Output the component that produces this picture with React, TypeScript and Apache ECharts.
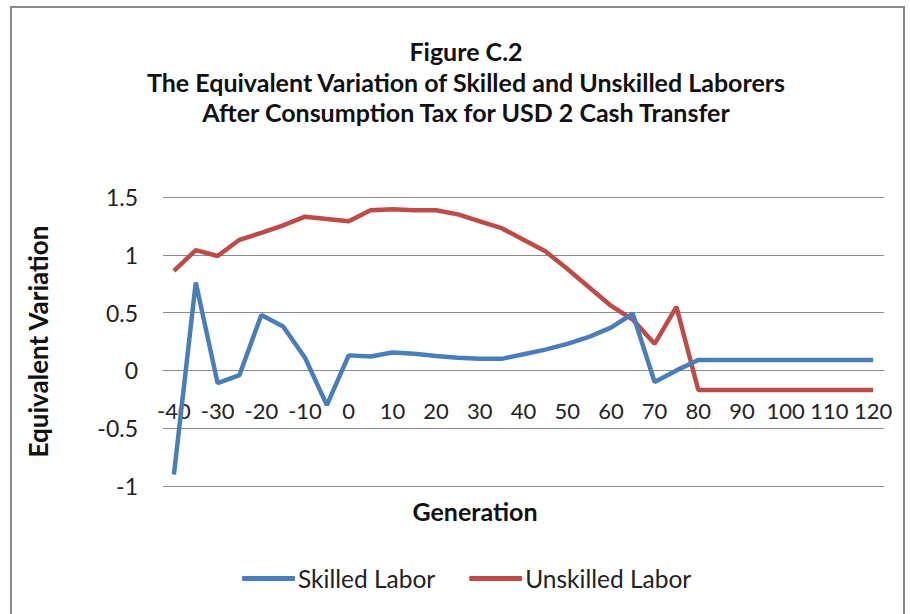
import React, { useEffect, useRef } from "react";
import * as echarts from "echarts";

const generations = [
  "-40", "-35", "-30", "-25", "-20", "-15", "-10", "-5", "0", "5", "10", "15", "20", "25", "30", "35",
  "40", "45", "50", "55", "60", "65", "70", "75", "80", "85", "90", "95", "100", "105", "110", "115", "120",
];

const skilledLabor = [
  -0.9, 0.76, -0.11, -0.04, 0.48, 0.38, 0.11, -0.3, 0.13, 0.12, 0.155, 0.145, 0.125, 0.11, 0.1, 0.1,
  0.14, 0.18, 0.23, 0.29, 0.37, 0.49, -0.1, 0.0, 0.09, 0.09, 0.09, 0.09, 0.09, 0.09, 0.09, 0.09, 0.09,
];

const unskilledLabor = [
  0.86, 1.04, 0.99, 1.13, 1.19, 1.255, 1.33, 1.31, 1.29, 1.385, 1.395, 1.385, 1.385, 1.35, 1.29, 1.23,
  1.13, 1.03, 0.88, 0.72, 0.56, 0.44, 0.23, 0.55, -0.17, -0.17, -0.17, -0.17, -0.17, -0.17, -0.17, -0.17, -0.17,
];

const titleLines = [
  "Figure C.2",
  "The Equivalent Variation of Skilled and Unskilled Laborers",
  "After Consumption Tax for USD 2 Cash Transfer",
];

const Y_MIN = -1;
const Y_MAX = 1.5;
const FONT = "Lato";

export default function App() {
  const ref = useRef<HTMLDivElement>(null);
  useEffect(() => {
    if (!ref.current) return;
    const chart = echarts.init(ref.current, null, { renderer: "svg" });
    const gridTop = 197;
    const gridBottom = 128;
    const gridHeight = 614 - gridTop - gridBottom;
    // place the category axis where the value axis crosses zero
    const zeroOffset = -gridHeight * ((0 - Y_MIN) / (Y_MAX - Y_MIN));
    chart.setOption({
      animation: false,
      backgroundColor: "#ffffff",
      textStyle: { fontFamily: FONT },
      title: {
        text: titleLines.join("\n"),
        left: 466,
        textAlign: "center",
        top: 36,
        padding: 0,
        textStyle: {
          fontFamily: FONT,
          fontWeight: "bold",
          fontSize: 25,
          lineHeight: 30.5,
          color: "#111111",
        },
      },
      graphic: [
        {
          type: "rect",
          shape: { x: 11, y: 7, width: 893, height: 640 },
          style: { fill: "none", stroke: "#8a8a8a", lineWidth: 2 },
          silent: true,
        },
        {
          type: "text",
          x: 475,
          y: 511,
          style: {
            text: "Generation",
            fontFamily: FONT,
            fontWeight: "bold",
            fontSize: 25,
            fill: "#111111",
            align: "center",
            verticalAlign: "middle",
          },
        },
      ],
      legend: {
        left: 237,
        top: 561,
        icon: "roundRect",
        itemWidth: 53,
        itemHeight: 5,
        itemGap: 34,
        textStyle: { fontFamily: FONT, fontSize: 24.5, color: "#222222", padding: [0, 0, 0, -2] },
        data: ["Skilled Labor", "Unskilled Labor"],
      },
      grid: { left: 163, right: 26, top: gridTop, bottom: gridBottom },
      xAxis: {
        type: "category",
        data: generations,
        boundaryGap: true,
        offset: zeroOffset,
        axisLine: { show: true, onZero: false, lineStyle: { color: "#8c8c8c", width: 1 } },
        axisTick: { show: false },
        axisLabel: {
          interval: 1,
          margin: 29,
          fontFamily: FONT,
          fontSize: 22,
          color: "#222222",
        },
        splitLine: { show: false },
      },
      yAxis: {
        type: "value",
        min: Y_MIN,
        max: Y_MAX,
        interval: 0.5,
        name: "Equivalent Variation",
        nameLocation: "middle",
        nameGap: 112,
        nameTextStyle: { fontFamily: FONT, fontWeight: "bold", fontSize: 26, color: "#111111" },
        axisLine: { show: false },
        axisTick: { show: false },
        axisLabel: { margin: 25, fontFamily: FONT, fontSize: 23, color: "#222222" },
        splitLine: { show: true, lineStyle: { color: "#8c8c8c", width: 1 } },
      },
      series: [
        {
          name: "Skilled Labor",
          type: "line",
          data: skilledLabor,
          symbol: "none",
          lineStyle: { color: "#4A7EBB", width: 4.5 },
          itemStyle: { color: "#4A7EBB" },
          z: 3,
        },
        {
          name: "Unskilled Labor",
          type: "line",
          data: unskilledLabor,
          symbol: "none",
          lineStyle: { color: "#BE4B48", width: 4.5 },
          itemStyle: { color: "#BE4B48" },
          z: 2,
        },
      ],
    });
    return () => chart.dispose();
  }, []);
  return (
    <div
      ref={ref}
      style={{ position: "fixed", left: 0, top: 0, width: 910, height: 614 }}
    />
  );
}
